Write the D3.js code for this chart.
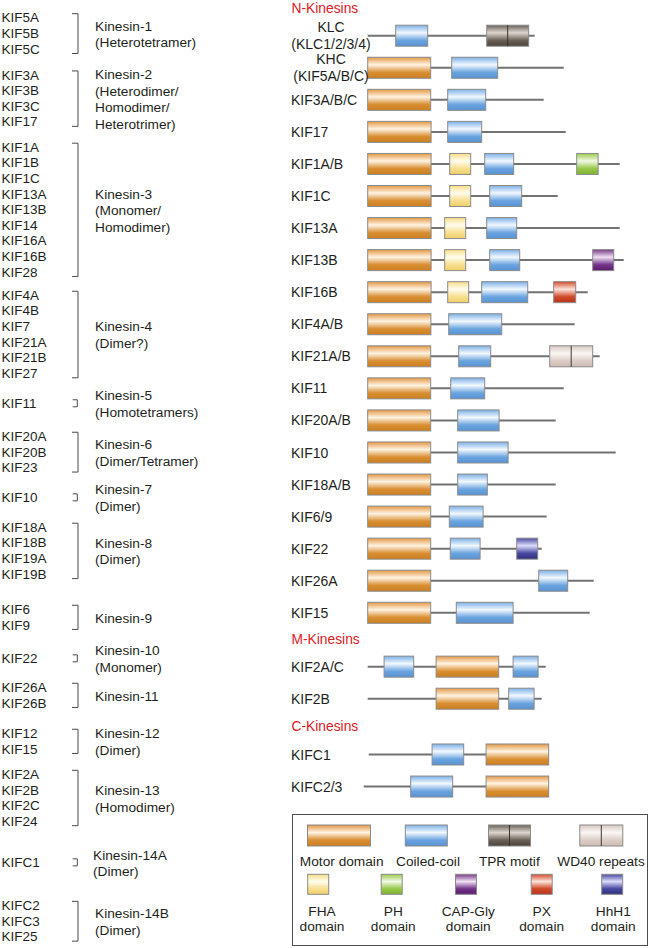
<!DOCTYPE html>
<html><head><meta charset="utf-8">
<script src="https://cdn.jsdelivr.net/npm/d3@7"></script>
<style>
body{margin:0;background:#fff}
svg{display:block}
text{font-family:"Liberation Sans",Arial,Helvetica,sans-serif;fill:#231f20}
</style>
</head><body>
<svg id="chart" width="650" height="948"></svg>
<script>
// ---------- Left panel data: kinesin families ----------
const familyNames = ["Kinesin-1","Kinesin-2","Kinesin-3","Kinesin-4","Kinesin-5","Kinesin-6","Kinesin-7",
  "Kinesin-8","Kinesin-9","Kinesin-10","Kinesin-11","Kinesin-12","Kinesin-13","Kinesin-14A","Kinesin-14B"];
const familyStates = [["(Heterotetramer)"],["(Heterodimer/","Homodimer/","Heterotrimer)"],["(Monomer/","Homodimer)"],
  ["(Dimer?)"],["(Homotetramers)"],["(Dimer/Tetramer)"],["(Dimer)"],["(Dimer)"],[],["(Monomer)"],[],["(Dimer)"],
  ["(Homodimer)"],["(Dimer)"],["(Dimer)"]];
const familyGenes = [
  ["KIF5A","KIF5B","KIF5C"],
  ["KIF3A","KIF3B","KIF3C","KIF17"],
  ["KIF1A","KIF1B","KIF1C","KIF13A","KIF13B","KIF14","KIF16A","KIF16B","KIF28"],
  ["KIF4A","KIF4B","KIF7","KIF21A","KIF21B","KIF27"],
  ["KIF11"],
  ["KIF20A","KIF20B","KIF23"],
  ["KIF10"],
  ["KIF18A","KIF18B","KIF19A","KIF19B"],
  ["KIF6","KIF9"],
  ["KIF22"],
  ["KIF26A","KIF26B"],
  ["KIF12","KIF15"],
  ["KIF2A","KIF2B","KIF2C","KIF24"],
  ["KIFC1"],
  ["KIFC2","KIFC3","KIF25"]
];

// ---------- Right panel data: domain architecture (approx. residue units) ----------
const sectionNames = ["N-Kinesins","M-Kinesins","C-Kinesins"];
const proteinNames = [["KLC","(KLC1/2/3/4)"],["KHC","(KIF5A/B/C)"],["KIF3A/B/C"],["KIF17"],["KIF1A/B"],["KIF1C"],
  ["KIF13A"],["KIF13B"],["KIF16B"],["KIF4A/B"],["KIF21A/B"],["KIF11"],["KIF20A/B"],["KIF10"],["KIF18A/B"],
  ["KIF6/9"],["KIF22"],["KIF26A"],["KIF15"],["KIF2A/C"],["KIF2B"],["KIFC1"],["KIFC2/3"]];
const proteinSection = [0,0,0,0,0,0,0,0,0,0,0,0,0,0,0,0,0,0,0,1,1,2,2];
const proteinSpan = [[0,835],[0,980],[0,880],[0,990],[0,1260],[0,950],[0,1260],[0,1280],[0,1100],[0,1035],
  [0,1160],[0,980],[0,940],[0,1240],[0,940],[0,895],[0,870],[0,1130],[0,1110],[0,890],[0,870],[5,905],[-20,905]];
const proteinDomains = [
  [["CC",140,300],["TPR",595,805]],
  [["Motor",0,315],["CC",420,650]],
  [["Motor",0,315],["CC",400,590]],
  [["Motor",0,317],["CC",400,570]],
  [["Motor",0,317],["FHA",410,515],["CC",585,730],["PH",1045,1152]],
  [["Motor",0,317],["FHA",410,515],["CC",610,770]],
  [["Motor",0,317],["FHA",385,490],["CC",595,745]],
  [["Motor",0,317],["FHA",385,490],["CC",610,760],["CAPGly",1125,1230]],
  [["Motor",0,317],["FHA",400,505],["CC",570,800],["PX",930,1040]],
  [["Motor",0,316],["CC",405,670]],
  [["Motor",0,315],["CC",455,615],["WD40",910,1125]],
  [["Motor",0,315],["CC",415,585]],
  [["Motor",0,315],["CC",450,657]],
  [["Motor",0,315],["CC",450,702]],
  [["Motor",0,315],["CC",450,598]],
  [["Motor",0,315],["CC",408,577]],
  [["Motor",0,315],["CC",413,562],["HhH1",745,850]],
  [["Motor",0,315],["CC",855,1000]],
  [["Motor",0,315],["CC",443,727]],
  [["CC",82,230],["Motor",342,655],["CC",727,852]],
  [["Motor",342,655],["CC",705,832]],
  [["CC",322,480],["Motor",592,905]],
  [["CC",215,425],["Motor",592,905]]
];
const domainTypes  = ["Motor","CC","TPR","WD40","FHA","PH","CAPGly","PX","HhH1"];
const domainLegend = [["Motor domain"],["Coiled-coil"],["TPR motif"],["WD40 repeats"],["FHA","domain"],
  ["PH","domain"],["CAP-Gly","domain"],["PX","domain"],["HhH1","domain"]];
const legendUnits  = [315,210,210,215,105,105,105,105,105];

// ---------- Styles ----------
const domainColors = {
  Motor:  ["#e39845","#fff3e2","#d98e32","#cb7f22"],
  CC:     ["#7cb0e6","#f2f8ff","#6aa4df","#5892d2"],
  TPR:    ["#6b625a","#ddd6cf","#6a6058","#4c433c"],
  WD40:   ["#d9c9c2","#faf6f3","#dccdc6","#cbbab2"],
  FHA:    ["#f6dd88","#fffdf0","#f6df8e","#efcf6c"],
  PH:     ["#9acb4e","#f2f9e4","#97c84a","#7cb232"],
  CAPGly: ["#7a3c8a","#efe0f2","#74348a","#5a1c6c"],
  PX:     ["#d24c2c","#fde3da","#d04a2a","#b8331a"],
  HhH1:   ["#4a4aa4","#dcdcfa","#4848a2","#30307e"]
};
const splitTypes = new Set(["TPR","WD40"]);

const svg = d3.select("#chart");
const defs = svg.append("defs");
domainTypes.forEach(t => {
  const c = domainColors[t];
  const g = defs.append("linearGradient").attr("id","g-"+t).attr("x1",0).attr("y1",0).attr("x2",0).attr("y2",1);
  [[0,c[0]],[0.36,c[1]],[0.72,c[2]],[1,c[3]]].forEach(([o,col]) =>
    g.append("stop").attr("offset",o).attr("stop-color",col));
});

// ---------- Left panel ----------
const leftPitch = 15.6;
const groupGapRows = [0,1.67,1.63,1.49,1.92,2.12,1.91,1.92,2.26,2.14,1.86,1.95,1.63,2.64,2.76];
const yL = d3.scaleLinear().domain([0,1]).range([17.5, 17.5 + leftPitch]);
let slot = 0;
const groupLayout = familyGenes.map((genes,i) => {
  if (i > 0) slot += groupGapRows[i];
  const rows = genes.map((g,j) => ({gene:g, slot: slot + j}));
  slot += genes.length - 1;
  return rows;
});

const left = svg.append("g");
familyGenes.forEach((genes,i) => {
  const rows = groupLayout[i];
  const g = left.append("g");
  g.selectAll("text.gene").data(rows).join("text")
    .attr("x",1.5).attr("y",d => yL(d.slot)).attr("dy","0.36em")
    .attr("font-size","13.5px").text(d => d.gene);
  const y0 = yL(rows[0].slot), y1 = yL(rows[rows.length-1].slot);
  const top = rows.length === 1 ? y0 - 3.2 : y0 - 3.8;
  const bot = rows.length === 1 ? y1 + 3.8 : y1 + 4.8;
  const bx0 = rows.length === 1 ? 72.7 : 72, bx1 = rows.length === 1 ? 77.3 : 78;
  g.append("path").attr("d",`M${bx0},${top}H${bx1}V${bot}H${bx0}`)
    .attr("fill","none").attr("stroke","#4a4a4a").attr("stroke-width",1);
  const lines = [familyNames[i]].concat(familyStates[i]);
  const mid = (y0 + y1)/2 + 0.8;
  const lh = 16.6;
  g.selectAll("text.fam").data(lines).join("text")
    .attr("x", i === 13 ? 93 : 95)
    .attr("y",(d,k) => mid + (k - (lines.length-1)/2)*lh).attr("dy","0.36em")
    .attr("font-size","13.7px").text(d => d);
});

// ---------- Right panel ----------
const x = d3.scaleLinear().domain([0,1000]).range([367.7, 567.7]);
const rowPitch = 32.06;
const sectionGapSlots = [0,0.68,0.74];
const yR = d3.scaleLinear().domain([0,1]).range([35.7, 35.7 + rowPitch]);
const boxH = 21;
let rslot = -1, prevSec = -1;
const rows = proteinNames.map((n,i) => {
  const sec = proteinSection[i];
  rslot += 1;
  if (sec !== prevSec) { rslot += sectionGapSlots[sec]; }
  const first = sec !== prevSec;
  prevSec = sec;
  return {names:n, span:proteinSpan[i], domains:proteinDomains[i], y:yR(rslot), sec, first};
});

const right = svg.append("g");
rows.filter(r => r.first).forEach(r => {
  right.append("text").attr("x",291.5).attr("y",r.y - 28).attr("dy","0.36em")
    .attr("font-size","13.8px").style("fill","#e0201f").text(sectionNames[r.sec]);
});

function drawDomain(g, type, x0, x1, yc, h) {
  g.append("rect").attr("x",x0).attr("y",yc - h/2).attr("width",x1 - x0).attr("height",h)
    .attr("fill",`url(#g-${type})`).attr("stroke","#8a8a8a").attr("stroke-width",1);
  if (splitTypes.has(type)) {
    const xm = (x0 + x1)/2;
    g.append("line").attr("x1",xm).attr("x2",xm).attr("y1",yc - h/2).attr("y2",yc + h/2)
      .attr("stroke", type === "TPR" ? "#3a322c" : "#3a3a3a").attr("stroke-width",1);
  }
}

rows.forEach(r => {
  const g = right.append("g");
  g.append("line").attr("x1",x(r.span[0])).attr("x2",x(r.span[1]))
    .attr("y1",r.y).attr("y2",r.y).attr("stroke","#727272").attr("stroke-width",2);
  r.domains.forEach(([t,a,b]) => drawDomain(g, t, x(a), x(b), r.y, boxH));
  if (r.names.length === 1) {
    g.append("text").attr("x",291).attr("y",r.y).attr("dy","0.36em")
      .attr("font-size","14px").text(r.names[0]);
  } else {
    g.selectAll("text").data(r.names).join("text")
      .attr("x",331).attr("text-anchor","middle")
      .attr("y",(d,k) => r.y + (k === 0 ? -8.8 : 8.6)).attr("dy","0.36em")
      .attr("font-size","14px").text(d => d);
  }
});

// ---------- Legend ----------
const lg = svg.append("g");
lg.append("rect").attr("x",292.5).attr("y",814.5).attr("width",355).attr("height",131)
  .attr("fill","none").attr("stroke","#4d4d4d").attr("stroke-width",1);
const legendCenters = [339,426.3,509.5,601.3,318.2,391.7,466,541.7,612.2];
const legendTextCenters = [341.7,428,509.3,601,322,393.3,468.3,541.7,613.3];
const wScale = u => x(u) - x(0);
domainTypes.forEach((t,i) => {
  const row2 = i >= 4;
  const w = wScale(legendUnits[i]);
  const yc = row2 ? 884.3 : 835.5;
  const h = row2 ? 20 : 21;
  drawDomain(lg, t, legendCenters[i] - w/2, legendCenters[i] + w/2, yc, h);
  const lines = domainLegend[i];
  lines.forEach((s,k) => {
    lg.append("text").attr("x",legendTextCenters[i]).attr("text-anchor","middle")
      .attr("y", row2 ? 911 + k*15.5 : 860.7).attr("dy","0.36em")
      .attr("font-size","13.7px").text(s);
  });
});
</script>
</body></html>
